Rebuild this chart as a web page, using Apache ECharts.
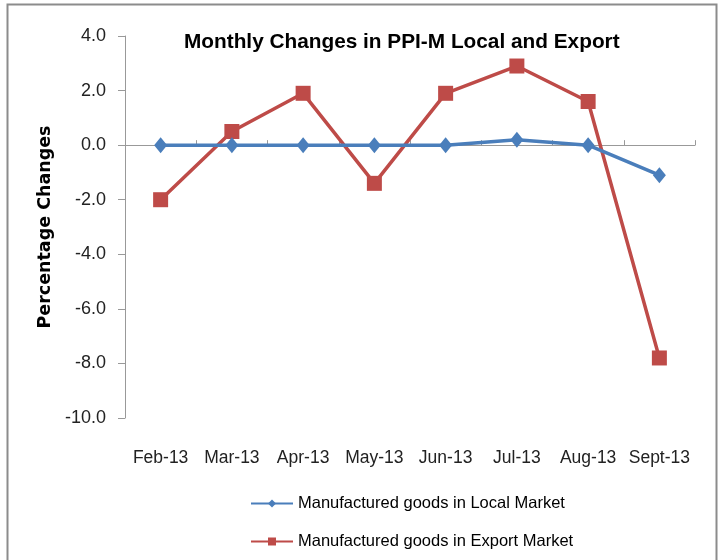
<!DOCTYPE html>
<html><head><meta charset="utf-8">
<script src="https://cdn.jsdelivr.net/npm/echarts@6/dist/echarts.min.js"></script>
<style>html,body{margin:0;padding:0;background:#fff}#c{width:720px;height:560px}</style>
</head><body><div id="c"></div>
<script>
const categories = ['Feb-13','Mar-13','Apr-13','May-13','Jun-13','Jul-13','Aug-13','Sept-13'];
const localMarket = [0, 0, 0, 0, 0, 0.2, 0, -1.1];
const exportMarket = [-2.0, 0.5, 1.9, -1.4, 1.9, 2.9, 1.6, -7.8];
const seriesNames = ['Manufactured goods in Local Market','Manufactured goods in Export Market'];
const yMin = -10, yMax = 4, yStep = 2;

const FONT = '"Liberation Sans",sans-serif';
const chart = echarts.init(document.getElementById('c'), null, {renderer:'canvas'});
chart.setOption({
  animation:false,
  backgroundColor:'#fff',
  graphic:[{type:'rect', shape:{x:7.5,y:4.5,width:709,height:600}, style:{fill:'none', stroke:'#8c8c8c', lineWidth:2}, silent:true}],
  title:{text:'Monthly Changes in PPI-M Local and Export', left:179, top:27,
    textStyle:{fontFamily:FONT, fontSize:20.8, fontWeight:'bold', color:'#000'}},
  grid:{left:125, right:25, top:36, bottom:142, containLabel:false},
  legend:{orient:'vertical', left:245, top:490, itemGap:21, itemWidth:42, itemHeight:10,
    data:seriesNames, lineStyle:{width:2},
    textStyle:{fontFamily:FONT, fontSize:16.5, color:'#000'}},
  xAxis:[
    {type:'category', data:categories, position:'bottom', boundaryGap:true,
     axisLine:{show:false, onZero:false}, axisTick:{show:false},
     axisLabel:{fontFamily:FONT, fontSize:17.5, color:'#222', margin:31, interval:0}},
    {type:'category', data:categories, boundaryGap:true,
     axisLine:{show:true, onZero:true, lineStyle:{color:'#999', width:1}},
     axisTick:{show:true, inside:false, length:5, lineStyle:{color:'#999'}},
     axisLabel:{show:false}}
  ],
  yAxis:{type:'value', min:yMin, max:yMax, interval:yStep,
    name:'Percentage Changes', nameLocation:'middle', nameGap:70, nameRotate:90,
    nameTextStyle:{fontFamily:'"DejaVu Sans",sans-serif', fontSize:17.5, fontWeight:'bold', color:'#000'},
    axisLine:{show:true, lineStyle:{color:'#999'}}, axisTick:{show:true, length:7, lineStyle:{color:'#999'}},
    splitLine:{show:false},
    axisLabel:{fontFamily:FONT, fontSize:18, color:'#222', margin:19, formatter:v=>v.toFixed(1)}},
  series:[
    {name:seriesNames[0], type:'line', xAxisIndex:0, data:localMarket, symbol:'diamond', symbolSize:[13,16],
     itemStyle:{color:'#4a7ebb'}, lineStyle:{color:'#4a7ebb', width:3.5}, z:3},
    {name:seriesNames[1], type:'line', xAxisIndex:0, data:exportMarket, symbol:'rect', symbolSize:15,
     itemStyle:{color:'#be4b48'}, lineStyle:{color:'#be4b48', width:3.5}, z:2}
  ]
});
</script></body></html>
